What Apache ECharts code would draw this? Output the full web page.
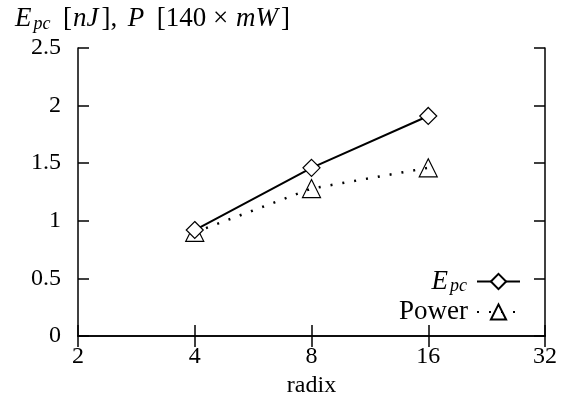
<!DOCTYPE html>
<html>
<head>
    <meta charset="utf-8">
    <title>Epc and power vs radix</title>
    <script src="https://cdn.jsdelivr.net/npm/echarts@6/dist/echarts.min.js"></script>
    <style>
        body { margin: 0; background: #fff; }
    </style>
</head>
<body>
<div id="main" style="width:571px;height:407px;"></div>
<script type="text/javascript">
    // data
    var radix = [4, 8, 16];
    var epc = [0.92, 1.46, 1.91];
    var power = [0.90, 1.28, 1.46];
    var xTicks = [2, 4, 8, 16, 32];
    var yMin = 0, yMax = 2.5, yStep = 0.5;

    function pairs(xs, ys) {
        return xs.map(function (x, i) { return [x, ys[i]]; });
    }

    var font = 'Liberation Serif';
    var fs = 24;
    var rich = {
        it: { fontFamily: font, fontSize: 27, fontStyle: 'italic', fontWeight: 'normal', color: '#000', padding: [0, 2, 0, 0] },
        sub: { fontFamily: font, fontSize: 18, fontStyle: 'italic', fontWeight: 'normal', color: '#000', verticalAlign: 'bottom', padding: [10, 2, 0, 0] },
        rm: { fontFamily: font, fontSize: 27, fontWeight: 'normal', color: '#000', padding: [0, 1, 0, 1] },
        sp: { fontSize: 27, padding: [0, 2, 0, 0] },
        gap: { fontSize: 8, padding: [0, 1, 0, 0] }
    };

    var myChart = echarts.init(document.getElementById('main'), null, {renderer: 'canvas'});

    var tickIn = {show: true, inside: true, length: 11, lineStyle: {color: '#000', width: 1.5}};
    var axisLine = {show: true, lineStyle: {color: '#000', width: 1.5}};

    var option = {
        animation: false,
        title: {
            text: '{it|E}{sub|pc}{sp| }{rm|[}{it|nJ}{rm|],}{sp| }{it|P}{sp| }{rm|[140 × }{it|mW}{rm|]}',
            left: 10,
            top: 0,
            textStyle: {rich: rich, fontWeight: 'normal'}
        },
        grid: {left: 78, right: 26, top: 48, bottom: 71, show: false},
        legend: {
            orient: 'vertical',
            right: 45,
            top: 263,
            align: 'right',
            itemWidth: 43,
            itemHeight: 19,
            itemGap: 3,
            data: ['Epc', 'Power'],
            formatter: function (name) {
                return (name === 'Epc' ? '{it|E}{sub|pc}' : '{rm|Power}') + '{gap| }';
            },
            textStyle: {rich: rich, fontFamily: font, fontSize: 27, color: '#000'}
        },
        xAxis: [
            {
                type: 'log',
                logBase: 2,
                min: xTicks[0],
                max: xTicks[xTicks.length - 1],
                name: 'radix',
                nameLocation: 'middle',
                nameGap: 38,
                nameTextStyle: {fontFamily: font, fontSize: fs, color: '#000'},
                axisLine: axisLine,
                axisTick: tickIn,
                axisLabel: {fontFamily: font, fontSize: fs, color: '#000', margin: 9},
                splitLine: {show: false},
                minorTick: {show: false}
            },
            {
                type: 'log',
                logBase: 2,
                position: 'top',
                min: xTicks[0],
                max: xTicks[xTicks.length - 1],
                axisLine: axisLine,
                axisTick: tickIn,
                axisLabel: {show: false},
                splitLine: {show: false}
            }
        ],
        yAxis: [
            {
                type: 'value',
                min: yMin,
                max: yMax,
                interval: yStep,
                axisLine: axisLine,
                axisTick: tickIn,
                axisLabel: {fontFamily: font, fontSize: fs, color: '#000', margin: 17},
                splitLine: {show: false}
            },
            {
                type: 'value',
                position: 'right',
                min: yMin,
                max: yMax,
                interval: yStep,
                axisLine: axisLine,
                axisTick: tickIn,
                axisLabel: {show: false},
                splitLine: {show: false}
            }
        ],
        series: [
            {
                name: 'Epc',
                type: 'line',
                data: pairs(radix, epc),
                symbol: 'diamond',
                symbolSize: 17,
                itemStyle: {color: '#fff', borderColor: '#000', borderWidth: 1.2},
                lineStyle: {color: '#000', width: 2, type: 'solid'},
                z: 3
            },
            {
                name: 'Power',
                type: 'line',
                data: pairs(radix, power),
                symbol: 'triangle',
                symbolSize: 18,
                itemStyle: {color: 'rgba(255,255,255,0)', borderColor: '#000', borderWidth: 1.2},
                lineStyle: {color: '#000', width: 2.5, type: [2, 10]},
                z: 2
            }
        ]
    };
    myChart.setOption(option);
</script>
</body>
</html>
